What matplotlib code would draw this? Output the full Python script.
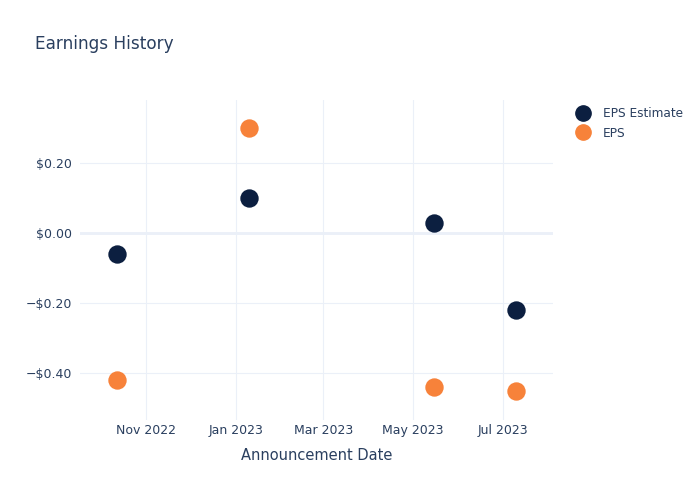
import matplotlib
matplotlib.use("Agg")
import matplotlib.pyplot as plt
import matplotlib.dates as mdates
import matplotlib.ticker as mticker
from matplotlib.lines import Line2D
import datetime as dt

dates = [dt.date(2022, 10, 12), dt.date(2023, 1, 10), dt.date(2023, 5, 15), dt.date(2023, 7, 10)]
eps_estimate = [-0.06, 0.10, 0.03, -0.22]
eps_actual = [-0.42, 0.30, -0.44, -0.45]
tick_dates = [dt.date(2022, 11, 1), dt.date(2023, 1, 1), dt.date(2023, 3, 1), dt.date(2023, 5, 1), dt.date(2023, 7, 1)]
tick_labels = ["Nov 2022", "Jan 2023", "Mar 2023", "May 2023", "Jul 2023"]
y_ticks = [-0.4, -0.2, 0.0, 0.2]

text_color = "#2a3f5f"
grid_color = "#ebf0f8"
navy = "#0c1f40"
orange = "#f7823a"

plt.rcParams['font.family'] = ['DejaVu Sans']
fig = plt.figure(figsize=(7, 5), dpi=100)
ax = fig.add_axes([80/700, 80/500, 473/700, 320/500])

ax.scatter(dates, eps_estimate, s=175, color=navy, zorder=3, linewidths=0)
ax.scatter(dates, eps_actual, s=175, color=orange, zorder=3, linewidths=0)

ax.set_xlim(dt.date(2022, 9, 17), dt.date(2023, 8, 4))
ax.set_ylim(-0.534, 0.38)

ax.set_xticks([mdates.date2num(d) for d in tick_dates])
ax.set_xticklabels(tick_labels)
ax.set_yticks(y_ticks)
ax.yaxis.set_major_formatter(mticker.FuncFormatter(
    lambda v, p: ("\u2212$%.2f" % abs(v)) if v < -1e-9 else ("$%.2f" % abs(v))))

ax.grid(True, color=grid_color, linewidth=0.8, zorder=0)
ax.axhline(0, color=grid_color, linewidth=2, zorder=1)
for s in ax.spines.values():
    s.set_visible(False)
ax.tick_params(axis='both', length=0, colors=text_color, labelsize=9)
ax.tick_params(axis='x', pad=3)
ax.tick_params(axis='y', pad=6)

ax.set_xlabel("Announcement Date", color=text_color, fontsize=10.5, labelpad=8)
fig.text(35/700, 1 - 44/500, "Earnings History", color=text_color, fontsize=12.2, va='center', ha='left')

handles = [Line2D([0], [0], marker='o', linestyle='none', markersize=11, color=navy, label="EPS Estimate"),
           Line2D([0], [0], marker='o', linestyle='none', markersize=11, color=orange, label="EPS")]
leg = fig.legend(handles=handles, loc='upper left', bbox_to_anchor=(576/700, 1 - 107/500),
                 frameon=False, fontsize=8.7, labelcolor=text_color, handletextpad=1.05,
                 borderaxespad=0, borderpad=0, labelspacing=0.55, handlelength=1.2)

fig.savefig("out.png", dpi=100)
